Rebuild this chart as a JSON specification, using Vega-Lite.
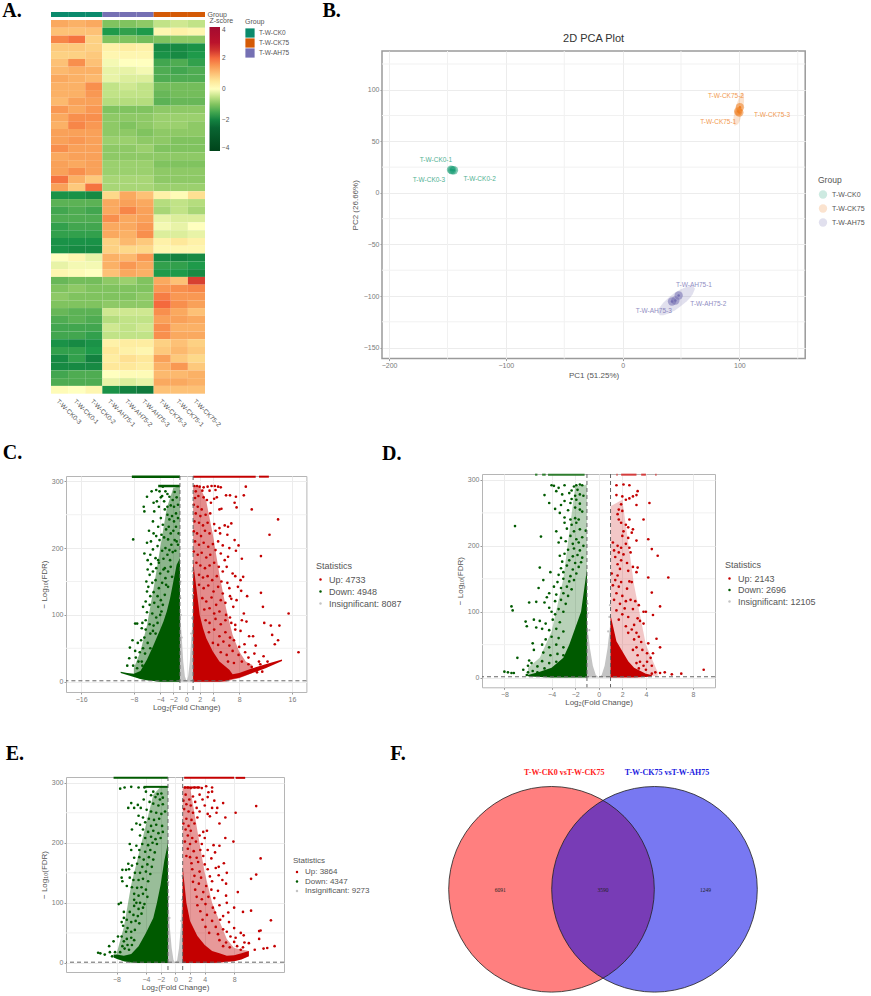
{"$schema":"https://vega.github.io/schema/vega-lite/v6.json","background":"white","padding":{"left":1,"top":0,"right":0,"bottom":0},"config":{"view":{"stroke":null},"font":"Liberation Sans","axis":{"labelColor":"#7a7a7a","labelFontSize":7,"tickColor":"#999","tickSize":2,"titleColor":"#555","titleFontSize":8,"titleFontWeight":"normal","gridColor":"#ececec","domain":false,"labelPadding":1},"legend":{"titleColor":"#555","labelColor":"#555","titleFontWeight":"normal"},"title":{"font":"Liberation Serif","fontWeight":"bold","fontSize":20,"color":"#000","anchor":"start","baseline":"alphabetic","offset":0}},
"datasets":{
"heat":[
{"r":0,"s":"CK0-3","z":1.3},{"r":0,"s":"CK0-1","z":1.2},{"r":0,"s":"CK0-2","z":1.3},{"r":0,"s":"AH75-1","z":-1.0},{"r":0,"s":"AH75-2","z":-1.0},{"r":0,"s":"AH75-3","z":-0.9},{"r":0,"s":"CK75-3","z":-0.5},{"r":0,"s":"CK75-1","z":-0.4},{"r":0,"s":"CK75-2","z":-0.5},
{"r":1,"s":"CK0-3","z":1.0},{"r":1,"s":"CK0-1","z":1.0},{"r":1,"s":"CK0-2","z":1.0},{"r":1,"s":"AH75-1","z":-1.7},{"r":1,"s":"AH75-2","z":-1.6},{"r":1,"s":"AH75-3","z":-1.7},{"r":1,"s":"CK75-3","z":0.2},{"r":1,"s":"CK75-1","z":0.3},{"r":1,"s":"CK75-2","z":0.2},
{"r":2,"s":"CK0-3","z":1.7},{"r":2,"s":"CK0-1","z":1.9},{"r":2,"s":"CK0-2","z":0.8},{"r":2,"s":"AH75-1","z":-1.0},{"r":2,"s":"AH75-2","z":-1.0},{"r":2,"s":"AH75-3","z":-1.1},{"r":2,"s":"CK75-3","z":-1.0},{"r":2,"s":"CK75-1","z":-0.9},{"r":2,"s":"CK75-2","z":-0.9},
{"r":3,"s":"CK0-3","z":0.9},{"r":3,"s":"CK0-1","z":0.9},{"r":3,"s":"CK0-2","z":0.8},{"r":3,"s":"AH75-1","z":0.3},{"r":3,"s":"AH75-2","z":0.4},{"r":3,"s":"AH75-3","z":0.3},{"r":3,"s":"CK75-3","z":-1.9},{"r":3,"s":"CK75-1","z":-1.9},{"r":3,"s":"CK75-2","z":-1.8},
{"r":4,"s":"CK0-3","z":0.8},{"r":4,"s":"CK0-1","z":0.8},{"r":4,"s":"CK0-2","z":0.9},{"r":4,"s":"AH75-1","z":0.2},{"r":4,"s":"AH75-2","z":0.2},{"r":4,"s":"AH75-3","z":0.2},{"r":4,"s":"CK75-3","z":-1.8},{"r":4,"s":"CK75-1","z":-1.9},{"r":4,"s":"CK75-2","z":-1.7},
{"r":5,"s":"CK0-3","z":1.0},{"r":5,"s":"CK0-1","z":1.6},{"r":5,"s":"CK0-2","z":1.0},{"r":5,"s":"AH75-1","z":-0.1},{"r":5,"s":"AH75-2","z":0.0},{"r":5,"s":"AH75-3","z":0.0},{"r":5,"s":"CK75-3","z":-1.5},{"r":5,"s":"CK75-1","z":-1.4},{"r":5,"s":"CK75-2","z":-1.6},
{"r":6,"s":"CK0-3","z":1.1},{"r":6,"s":"CK0-1","z":1.2},{"r":6,"s":"CK0-2","z":1.2},{"r":6,"s":"AH75-1","z":-0.2},{"r":6,"s":"AH75-2","z":-0.2},{"r":6,"s":"AH75-3","z":-0.1},{"r":6,"s":"CK75-3","z":-1.4},{"r":6,"s":"CK75-1","z":-1.5},{"r":6,"s":"CK75-2","z":-1.4},
{"r":7,"s":"CK0-3","z":1.3},{"r":7,"s":"CK0-1","z":1.2},{"r":7,"s":"CK0-2","z":1.1},{"r":7,"s":"AH75-1","z":-0.2},{"r":7,"s":"AH75-2","z":-0.3},{"r":7,"s":"AH75-3","z":-0.3},{"r":7,"s":"CK75-3","z":-1.4},{"r":7,"s":"CK75-1","z":-1.4},{"r":7,"s":"CK75-2","z":-1.4},
{"r":8,"s":"CK0-3","z":1.2},{"r":8,"s":"CK0-1","z":1.2},{"r":8,"s":"CK0-2","z":1.6},{"r":8,"s":"AH75-1","z":-0.5},{"r":8,"s":"AH75-2","z":-0.4},{"r":8,"s":"AH75-3","z":-0.5},{"r":8,"s":"CK75-3","z":-1.1},{"r":8,"s":"CK75-1","z":-1.1},{"r":8,"s":"CK75-2","z":-1.1},
{"r":9,"s":"CK0-3","z":1.2},{"r":9,"s":"CK0-1","z":1.2},{"r":9,"s":"CK0-2","z":1.5},{"r":9,"s":"AH75-1","z":-0.5},{"r":9,"s":"AH75-2","z":-0.5},{"r":9,"s":"AH75-3","z":-0.5},{"r":9,"s":"CK75-3","z":-1.2},{"r":9,"s":"CK75-1","z":-1.1},{"r":9,"s":"CK75-2","z":-1.1},
{"r":10,"s":"CK0-3","z":1.1},{"r":10,"s":"CK0-1","z":1.4},{"r":10,"s":"CK0-2","z":1.4},{"r":10,"s":"AH75-1","z":-0.6},{"r":10,"s":"AH75-2","z":-0.6},{"r":10,"s":"AH75-3","z":-0.6},{"r":10,"s":"CK75-3","z":-1.3},{"r":10,"s":"CK75-1","z":-1.2},{"r":10,"s":"CK75-2","z":-1.2},
{"r":11,"s":"CK0-3","z":1.5},{"r":11,"s":"CK0-1","z":1.3},{"r":11,"s":"CK0-2","z":1.5},{"r":11,"s":"AH75-1","z":-1.0},{"r":11,"s":"AH75-2","z":-1.0},{"r":11,"s":"AH75-3","z":-1.0},{"r":11,"s":"CK75-3","z":-0.9},{"r":11,"s":"CK75-1","z":-0.9},{"r":11,"s":"CK75-2","z":-0.9},
{"r":12,"s":"CK0-3","z":1.3},{"r":12,"s":"CK0-1","z":1.6},{"r":12,"s":"CK0-2","z":1.6},{"r":12,"s":"AH75-1","z":-0.9},{"r":12,"s":"AH75-2","z":-0.9},{"r":12,"s":"AH75-3","z":-0.9},{"r":12,"s":"CK75-3","z":-0.8},{"r":12,"s":"CK75-1","z":-0.8},{"r":12,"s":"CK75-2","z":-0.8},
{"r":13,"s":"CK0-3","z":1.2},{"r":13,"s":"CK0-1","z":1.7},{"r":13,"s":"CK0-2","z":1.5},{"r":13,"s":"AH75-1","z":-0.9},{"r":13,"s":"AH75-2","z":-1.0},{"r":13,"s":"AH75-3","z":-0.9},{"r":13,"s":"CK75-3","z":-0.8},{"r":13,"s":"CK75-1","z":-0.8},{"r":13,"s":"CK75-2","z":-0.9},
{"r":14,"s":"CK0-3","z":1.4},{"r":14,"s":"CK0-1","z":1.4},{"r":14,"s":"CK0-2","z":1.4},{"r":14,"s":"AH75-1","z":-0.9},{"r":14,"s":"AH75-2","z":-0.9},{"r":14,"s":"AH75-3","z":-1.0},{"r":14,"s":"CK75-3","z":-0.9},{"r":14,"s":"CK75-1","z":-0.9},{"r":14,"s":"CK75-2","z":-0.9},
{"r":15,"s":"CK0-3","z":1.4},{"r":15,"s":"CK0-1","z":1.5},{"r":15,"s":"CK0-2","z":1.4},{"r":15,"s":"AH75-1","z":-0.8},{"r":15,"s":"AH75-2","z":-0.8},{"r":15,"s":"AH75-3","z":-0.9},{"r":15,"s":"CK75-3","z":-0.9},{"r":15,"s":"CK75-1","z":-1.0},{"r":15,"s":"CK75-2","z":-1.0},
{"r":16,"s":"CK0-3","z":1.6},{"r":16,"s":"CK0-1","z":1.4},{"r":16,"s":"CK0-2","z":1.4},{"r":16,"s":"AH75-1","z":-0.9},{"r":16,"s":"AH75-2","z":-0.9},{"r":16,"s":"AH75-3","z":-0.8},{"r":16,"s":"CK75-3","z":-1.0},{"r":16,"s":"CK75-1","z":-1.0},{"r":16,"s":"CK75-2","z":-1.0},
{"r":17,"s":"CK0-3","z":1.3},{"r":17,"s":"CK0-1","z":1.4},{"r":17,"s":"CK0-2","z":1.4},{"r":17,"s":"AH75-1","z":-0.9},{"r":17,"s":"AH75-2","z":-0.9},{"r":17,"s":"AH75-3","z":-0.9},{"r":17,"s":"CK75-3","z":-0.9},{"r":17,"s":"CK75-1","z":-0.9},{"r":17,"s":"CK75-2","z":-0.9},
{"r":18,"s":"CK0-3","z":1.4},{"r":18,"s":"CK0-1","z":1.3},{"r":18,"s":"CK0-2","z":1.4},{"r":18,"s":"AH75-1","z":-0.8},{"r":18,"s":"AH75-2","z":-0.8},{"r":18,"s":"AH75-3","z":-0.8},{"r":18,"s":"CK75-3","z":-1.0},{"r":18,"s":"CK75-1","z":-1.0},{"r":18,"s":"CK75-2","z":-1.0},
{"r":19,"s":"CK0-3","z":1.4},{"r":19,"s":"CK0-1","z":1.6},{"r":19,"s":"CK0-2","z":1.4},{"r":19,"s":"AH75-1","z":-0.8},{"r":19,"s":"AH75-2","z":-0.8},{"r":19,"s":"AH75-3","z":-0.8},{"r":19,"s":"CK75-3","z":-0.9},{"r":19,"s":"CK75-1","z":-0.9},{"r":19,"s":"CK75-2","z":-0.9},
{"r":20,"s":"CK0-3","z":1.9},{"r":20,"s":"CK0-1","z":1.2},{"r":20,"s":"CK0-2","z":0.9},{"r":20,"s":"AH75-1","z":-0.7},{"r":20,"s":"AH75-2","z":-0.7},{"r":20,"s":"AH75-3","z":-0.7},{"r":20,"s":"CK75-3","z":-0.9},{"r":20,"s":"CK75-1","z":-0.9},{"r":20,"s":"CK75-2","z":-0.9},
{"r":21,"s":"CK0-3","z":1.4},{"r":21,"s":"CK0-1","z":0.9},{"r":21,"s":"CK0-2","z":1.9},{"r":21,"s":"AH75-1","z":-0.7},{"r":21,"s":"AH75-2","z":-0.7},{"r":21,"s":"AH75-3","z":-0.7},{"r":21,"s":"CK75-3","z":-0.8},{"r":21,"s":"CK75-1","z":-0.8},{"r":21,"s":"CK75-2","z":-0.8},
{"r":22,"s":"CK0-3","z":-1.8},{"r":22,"s":"CK0-1","z":-1.8},{"r":22,"s":"CK0-2","z":-1.9},{"r":22,"s":"AH75-1","z":0.7},{"r":22,"s":"AH75-2","z":1.3},{"r":22,"s":"AH75-3","z":1.0},{"r":22,"s":"CK75-3","z":0.3},{"r":22,"s":"CK75-1","z":0.1},{"r":22,"s":"CK75-2","z":0.6},
{"r":23,"s":"CK0-3","z":-1.3},{"r":23,"s":"CK0-1","z":-1.3},{"r":23,"s":"CK0-2","z":-1.3},{"r":23,"s":"AH75-1","z":1.3},{"r":23,"s":"AH75-2","z":1.4},{"r":23,"s":"AH75-3","z":1.3},{"r":23,"s":"CK75-3","z":-0.6},{"r":23,"s":"CK75-1","z":-0.5},{"r":23,"s":"CK75-2","z":-0.6},
{"r":24,"s":"CK0-3","z":-1.5},{"r":24,"s":"CK0-1","z":-1.4},{"r":24,"s":"CK0-2","z":-1.5},{"r":24,"s":"AH75-1","z":1.3},{"r":24,"s":"AH75-2","z":1.7},{"r":24,"s":"AH75-3","z":1.4},{"r":24,"s":"CK75-3","z":-0.7},{"r":24,"s":"CK75-1","z":-0.5},{"r":24,"s":"CK75-2","z":-0.7},
{"r":25,"s":"CK0-3","z":-1.4},{"r":25,"s":"CK0-1","z":-1.4},{"r":25,"s":"CK0-2","z":-1.4},{"r":25,"s":"AH75-1","z":1.6},{"r":25,"s":"AH75-2","z":1.3},{"r":25,"s":"AH75-3","z":1.4},{"r":25,"s":"CK75-3","z":-0.2},{"r":25,"s":"CK75-1","z":-0.3},{"r":25,"s":"CK75-2","z":-0.3},
{"r":26,"s":"CK0-3","z":-1.6},{"r":26,"s":"CK0-1","z":-1.5},{"r":26,"s":"CK0-2","z":-1.5},{"r":26,"s":"AH75-1","z":1.3},{"r":26,"s":"AH75-2","z":1.3},{"r":26,"s":"AH75-3","z":1.5},{"r":26,"s":"CK75-3","z":-0.1},{"r":26,"s":"CK75-1","z":-0.2},{"r":26,"s":"CK75-2","z":0.0},
{"r":27,"s":"CK0-3","z":-1.6},{"r":27,"s":"CK0-1","z":-1.6},{"r":27,"s":"CK0-2","z":-1.6},{"r":27,"s":"AH75-1","z":1.3},{"r":27,"s":"AH75-2","z":1.2},{"r":27,"s":"AH75-3","z":1.6},{"r":27,"s":"CK75-3","z":-0.3},{"r":27,"s":"CK75-1","z":-0.3},{"r":27,"s":"CK75-2","z":-0.2},
{"r":28,"s":"CK0-3","z":-1.8},{"r":28,"s":"CK0-1","z":-1.8},{"r":28,"s":"CK0-2","z":-1.8},{"r":28,"s":"AH75-1","z":0.8},{"r":28,"s":"AH75-2","z":1.1},{"r":28,"s":"AH75-3","z":0.9},{"r":28,"s":"CK75-3","z":0.3},{"r":28,"s":"CK75-1","z":0.5},{"r":28,"s":"CK75-2","z":0.3},
{"r":29,"s":"CK0-3","z":-1.8},{"r":29,"s":"CK0-1","z":-1.9},{"r":29,"s":"CK0-2","z":-1.9},{"r":29,"s":"AH75-1","z":0.8},{"r":29,"s":"AH75-2","z":0.7},{"r":29,"s":"AH75-3","z":0.7},{"r":29,"s":"CK75-3","z":0.2},{"r":29,"s":"CK75-1","z":0.2},{"r":29,"s":"CK75-2","z":0.2},
{"r":30,"s":"CK0-3","z":0.0},{"r":30,"s":"CK0-1","z":0.2},{"r":30,"s":"CK0-2","z":-0.2},{"r":30,"s":"AH75-1","z":1.2},{"r":30,"s":"AH75-2","z":1.1},{"r":30,"s":"AH75-3","z":1.5},{"r":30,"s":"CK75-3","z":-1.9},{"r":30,"s":"CK75-1","z":-2.0},{"r":30,"s":"CK75-2","z":-1.9},
{"r":31,"s":"CK0-3","z":-0.2},{"r":31,"s":"CK0-1","z":-0.1},{"r":31,"s":"CK0-2","z":-0.1},{"r":31,"s":"AH75-1","z":1.2},{"r":31,"s":"AH75-2","z":1.5},{"r":31,"s":"AH75-3","z":1.3},{"r":31,"s":"CK75-3","z":-1.6},{"r":31,"s":"CK75-1","z":-1.6},{"r":31,"s":"CK75-2","z":-1.7},
{"r":32,"s":"CK0-3","z":0.2},{"r":32,"s":"CK0-1","z":0.1},{"r":32,"s":"CK0-2","z":0.0},{"r":32,"s":"AH75-1","z":1.0},{"r":32,"s":"AH75-2","z":1.3},{"r":32,"s":"AH75-3","z":1.2},{"r":32,"s":"CK75-3","z":-1.7},{"r":32,"s":"CK75-1","z":-1.7},{"r":32,"s":"CK75-2","z":-1.9},
{"r":33,"s":"CK0-3","z":-1.2},{"r":33,"s":"CK0-1","z":-1.1},{"r":33,"s":"CK0-2","z":-1.1},{"r":33,"s":"AH75-1","z":-0.9},{"r":33,"s":"AH75-2","z":-0.8},{"r":33,"s":"AH75-3","z":-1.0},{"r":33,"s":"CK75-3","z":1.3},{"r":33,"s":"CK75-1","z":1.0},{"r":33,"s":"CK75-2","z":2.4},
{"r":34,"s":"CK0-3","z":-1.0},{"r":34,"s":"CK0-1","z":-0.9},{"r":34,"s":"CK0-2","z":-1.0},{"r":34,"s":"AH75-1","z":-1.0},{"r":34,"s":"AH75-2","z":-1.0},{"r":34,"s":"AH75-3","z":-1.0},{"r":34,"s":"CK75-3","z":1.5},{"r":34,"s":"CK75-1","z":1.6},{"r":34,"s":"CK75-2","z":1.7},
{"r":35,"s":"CK0-3","z":-0.9},{"r":35,"s":"CK0-1","z":-1.0},{"r":35,"s":"CK0-2","z":-1.0},{"r":35,"s":"AH75-1","z":-1.0},{"r":35,"s":"AH75-2","z":-1.0},{"r":35,"s":"AH75-3","z":-0.9},{"r":35,"s":"CK75-3","z":1.8},{"r":35,"s":"CK75-1","z":1.5},{"r":35,"s":"CK75-2","z":1.5},
{"r":36,"s":"CK0-3","z":-1.0},{"r":36,"s":"CK0-1","z":-1.0},{"r":36,"s":"CK0-2","z":-1.0},{"r":36,"s":"AH75-1","z":-0.9},{"r":36,"s":"AH75-2","z":-0.9},{"r":36,"s":"AH75-3","z":-0.9},{"r":36,"s":"CK75-3","z":2.0},{"r":36,"s":"CK75-1","z":1.6},{"r":36,"s":"CK75-2","z":1.4},
{"r":37,"s":"CK0-3","z":-1.2},{"r":37,"s":"CK0-1","z":-1.3},{"r":37,"s":"CK0-2","z":-1.3},{"r":37,"s":"AH75-1","z":-0.4},{"r":37,"s":"AH75-2","z":-0.4},{"r":37,"s":"AH75-3","z":-0.4},{"r":37,"s":"CK75-3","z":1.6},{"r":37,"s":"CK75-1","z":1.3},{"r":37,"s":"CK75-2","z":1.0},
{"r":38,"s":"CK0-3","z":-1.4},{"r":38,"s":"CK0-1","z":-1.3},{"r":38,"s":"CK0-2","z":-1.4},{"r":38,"s":"AH75-1","z":-0.6},{"r":38,"s":"AH75-2","z":-0.5},{"r":38,"s":"AH75-3","z":-0.5},{"r":38,"s":"CK75-3","z":1.4},{"r":38,"s":"CK75-1","z":1.4},{"r":38,"s":"CK75-2","z":1.3},
{"r":39,"s":"CK0-3","z":-1.5},{"r":39,"s":"CK0-1","z":-1.5},{"r":39,"s":"CK0-2","z":-1.5},{"r":39,"s":"AH75-1","z":-0.4},{"r":39,"s":"AH75-2","z":-0.5},{"r":39,"s":"AH75-3","z":-0.4},{"r":39,"s":"CK75-3","z":1.6},{"r":39,"s":"CK75-1","z":1.2},{"r":39,"s":"CK75-2","z":1.2},
{"r":40,"s":"CK0-3","z":-1.5},{"r":40,"s":"CK0-1","z":-1.5},{"r":40,"s":"CK0-2","z":-1.6},{"r":40,"s":"AH75-1","z":-0.5},{"r":40,"s":"AH75-2","z":-0.5},{"r":40,"s":"AH75-3","z":-0.5},{"r":40,"s":"CK75-3","z":1.6},{"r":40,"s":"CK75-1","z":1.3},{"r":40,"s":"CK75-2","z":1.3},
{"r":41,"s":"CK0-3","z":-1.8},{"r":41,"s":"CK0-1","z":-1.9},{"r":41,"s":"CK0-2","z":-1.8},{"r":41,"s":"AH75-1","z":0.3},{"r":41,"s":"AH75-2","z":0.4},{"r":41,"s":"AH75-3","z":0.4},{"r":41,"s":"CK75-3","z":0.8},{"r":41,"s":"CK75-1","z":1.0},{"r":41,"s":"CK75-2","z":0.8},
{"r":42,"s":"CK0-3","z":-1.6},{"r":42,"s":"CK0-1","z":-1.6},{"r":42,"s":"CK0-2","z":-1.7},{"r":42,"s":"AH75-1","z":0.5},{"r":42,"s":"AH75-2","z":0.3},{"r":42,"s":"AH75-3","z":0.2},{"r":42,"s":"CK75-3","z":0.9},{"r":42,"s":"CK75-1","z":1.1},{"r":42,"s":"CK75-2","z":0.9},
{"r":43,"s":"CK0-3","z":-1.9},{"r":43,"s":"CK0-1","z":-1.6},{"r":43,"s":"CK0-2","z":-2.0},{"r":43,"s":"AH75-1","z":0.4},{"r":43,"s":"AH75-2","z":0.6},{"r":43,"s":"AH75-3","z":0.5},{"r":43,"s":"CK75-3","z":1.4},{"r":43,"s":"CK75-1","z":0.9},{"r":43,"s":"CK75-2","z":0.7},
{"r":44,"s":"CK0-3","z":-1.9},{"r":44,"s":"CK0-1","z":-1.9},{"r":44,"s":"CK0-2","z":-1.9},{"r":44,"s":"AH75-1","z":0.5},{"r":44,"s":"AH75-2","z":0.5},{"r":44,"s":"AH75-3","z":0.4},{"r":44,"s":"CK75-3","z":1.2},{"r":44,"s":"CK75-1","z":1.5},{"r":44,"s":"CK75-2","z":0.9},
{"r":45,"s":"CK0-3","z":-1.5},{"r":45,"s":"CK0-1","z":-1.4},{"r":45,"s":"CK0-2","z":-1.4},{"r":45,"s":"AH75-1","z":0.0},{"r":45,"s":"AH75-2","z":0.1},{"r":45,"s":"AH75-3","z":0.1},{"r":45,"s":"CK75-3","z":1.1},{"r":45,"s":"CK75-1","z":1.1},{"r":45,"s":"CK75-2","z":1.2},
{"r":46,"s":"CK0-3","z":-1.4},{"r":46,"s":"CK0-1","z":-1.4},{"r":46,"s":"CK0-2","z":-1.4},{"r":46,"s":"AH75-1","z":-0.2},{"r":46,"s":"AH75-2","z":-0.3},{"r":46,"s":"AH75-3","z":-0.2},{"r":46,"s":"CK75-3","z":1.3},{"r":46,"s":"CK75-1","z":1.3},{"r":46,"s":"CK75-2","z":1.2},
{"r":47,"s":"CK0-3","z":0.1},{"r":47,"s":"CK0-1","z":0.0},{"r":47,"s":"CK0-2","z":0.2},{"r":47,"s":"AH75-1","z":-1.8},{"r":47,"s":"AH75-2","z":-2.0},{"r":47,"s":"AH75-3","z":-2.1},{"r":47,"s":"CK75-3","z":1.0},{"r":47,"s":"CK75-1","z":1.0},{"r":47,"s":"CK75-2","z":1.0}],
"annot":[{"s":"CK0-3","g":"T-W-CK0"},{"s":"CK0-1","g":"T-W-CK0"},{"s":"CK0-2","g":"T-W-CK0"},{"s":"AH75-1","g":"T-W-AH75"},{"s":"AH75-2","g":"T-W-AH75"},{"s":"AH75-3","g":"T-W-AH75"},{"s":"CK75-3","g":"T-W-CK75"},{"s":"CK75-1","g":"T-W-CK75"},{"s":"CK75-2","g":"T-W-CK75"}],
"pts":[{"x":-147,"y":22.5,"g":"T-W-CK0"},{"x":-146,"y":22,"g":"T-W-CK0"},{"x":-144.5,"y":22,"g":"T-W-CK0"},{"x":100.5,"y":83,"g":"T-W-CK75"},{"x":99,"y":79,"g":"T-W-CK75"},{"x":100,"y":78,"g":"T-W-CK75"},{"x":48,"y":-99.5,"g":"T-W-AH75"},{"x":45.2,"y":-104.4,"g":"T-W-AH75"},{"x":42.3,"y":-105.3,"g":"T-W-AH75"}],
"labs":[{"x":88.5,"y":93.9,"g":"T-W-CK75","t":"T-W-CK75-2"},{"x":128,"y":75.4,"g":"T-W-CK75","t":"T-W-CK75-3"},{"x":81.9,"y":68.3,"g":"T-W-CK75","t":"T-W-CK75-1"},{"x":-159.9,"y":32.3,"g":"T-W-CK0","t":"T-W-CK0-1"},{"x":-165.9,"y":12.2,"g":"T-W-CK0","t":"T-W-CK0-3"},{"x":-122.5,"y":13.9,"g":"T-W-CK0","t":"T-W-CK0-2"},{"x":61.1,"y":-89.1,"g":"T-W-AH75","t":"T-W-AH75-1"},{"x":73.4,"y":-107.6,"g":"T-W-AH75","t":"T-W-AH75-2"},{"x":26.7,"y":-115,"g":"T-W-AH75","t":"T-W-AH75-3"}],
"ell":[{"x":95,"y":68,"y2":73,"g":"T-W-CK75"},{"x":96,"y":65,"y2":80,"g":"T-W-CK75"},{"x":97,"y":65.5,"y2":84,"g":"T-W-CK75"},{"x":98,"y":66,"y2":87,"g":"T-W-CK75"},{"x":99,"y":67,"y2":90,"g":"T-W-CK75"},{"x":100,"y":69,"y2":93,"g":"T-W-CK75"},{"x":101,"y":72,"y2":95,"g":"T-W-CK75"},{"x":102,"y":77,"y2":97,"g":"T-W-CK75"},{"x":103,"y":83,"y2":97,"g":"T-W-CK75"},{"x":104,"y":88,"y2":95,"g":"T-W-CK75"},
{"x":30,"y":-116,"y2":-116,"g":"T-W-AH75"},{"x":32,"y":-118.6,"y2":-110.6,"g":"T-W-AH75"},{"x":35,"y":-118.6,"y2":-106.2,"g":"T-W-AH75"},{"x":40,"y":-116.7,"y2":-100.9,"g":"T-W-AH75"},{"x":45,"y":-113.7,"y2":-96.7,"g":"T-W-AH75"},{"x":50,"y":-109.8,"y2":-93.4,"g":"T-W-AH75"},{"x":55,"y":-105,"y2":-91,"g":"T-W-AH75"},{"x":58,"y":-101.4,"y2":-90.2,"g":"T-W-AH75"},{"x":60,"y":-98.4,"y2":-90.4,"g":"T-W-AH75"},{"x":62,"y":-92.9,"y2":-92.9,"g":"T-W-AH75"}],
"cN":[{"x":0.9,"y":165},{"x":-0.9,"y":150},{"x":0.95,"y":130},{"x":-0.95,"y":125},{"x":0.85,"y":95},{"x":-0.85,"y":100},{"x":0.7,"y":72},{"x":-0.72,"y":66}],
"dN":[{"x":0.95,"y":110},{"x":-0.95,"y":112},{"x":0.9,"y":92},{"x":-0.9,"y":98},{"x":0.8,"y":70},{"x":-0.8,"y":72}],
"eN":[{"x":0.95,"y":145},{"x":-0.95,"y":135},{"x":-0.9,"y":110},{"x":0.9,"y":105},{"x":0.8,"y":70},{"x":-0.8,"y":75}],
"cD":[{"x":-4.1,"y":285},{"x":-3.9,"y":276},{"x":-4.6,"y":287},{"x":-4.5,"y":270},{"x":-5.3,"y":285},{"x":-6.0,"y":277},{"x":-5.0,"y":268},{"x":-6.5,"y":262},{"x":-6.4,"y":255},{"x":-4.9,"y":255},{"x":-4.2,"y":262},{"x":-3.7,"y":278},{"x":-3.4,"y":270},{"x":-3.2,"y":285},{"x":-2.9,"y":281},{"x":-2.6,"y":277},{"x":-2.4,"y":264},{"x":-2.1,"y":272},{"x":-1.8,"y":284},{"x":-1.5,"y":276},{"x":-1.3,"y":265},{"x":-3.3,"y":258},{"x":-2.9,"y":250},{"x":-2.6,"y":243},{"x":-2.2,"y":248},{"x":-1.9,"y":240},{"x":-1.6,"y":252},{"x":-1.3,"y":245},{"x":-3.9,"y":245},{"x":-4.3,"y":232},{"x":-3.6,"y":235},{"x":-3.1,"y":228},{"x":-2.7,"y":232},{"x":-5.1,"y":240},{"x":-5.7,"y":226},{"x":-5.0,"y":222},{"x":-4.6,"y":218},{"x":-6.0,"y":208},{"x":-8.1,"y":213},{"x":-5.4,"y":210},{"x":-4.1,"y":212},{"x":-3.8,"y":220},{"x":-3.4,"y":216},{"x":-2.8,"y":213},{"x":-2.4,"y":222},{"x":-2.0,"y":226},{"x":-1.6,"y":232},{"x":-1.2,"y":222},{"x":-2.3,"y":205},{"x":-1.8,"y":212},{"x":-1.3,"y":205},{"x":-3.2,"y":200},{"x":-3.7,"y":196},{"x":-4.4,"y":203},{"x":-5.1,"y":198},{"x":-5.5,"y":190},{"x":-6.4,"y":192},{"x":-5.9,"y":182},{"x":-5.4,"y":176},{"x":-4.7,"y":185},{"x":-4.2,"y":178},{"x":-3.5,"y":184},{"x":-2.9,"y":190},{"x":-2.5,"y":182},{"x":-2.1,"y":194},{"x":-5.9,"y":168},{"x":-5.6,"y":160},{"x":-5.1,"y":165},{"x":-4.6,"y":170},{"x":-4.0,"y":162},{"x":-3.3,"y":170},{"x":-2.8,"y":165},{"x":-2.4,"y":172},{"x":-6.1,"y":150},{"x":-5.8,"y":142},{"x":-5.2,"y":148},{"x":-4.7,"y":152},{"x":-4.2,"y":140},{"x":-3.7,"y":148},{"x":-3.2,"y":155},{"x":-2.8,"y":142},{"x":-6.0,"y":135},{"x":-5.5,"y":128},{"x":-5.0,"y":134},{"x":-4.4,"y":128},{"x":-3.9,"y":122},{"x":-3.3,"y":130},{"x":-6.2,"y":120},{"x":-5.6,"y":115},{"x":-4.9,"y":118},{"x":-4.3,"y":112},{"x":-3.8,"y":105},{"x":-6.6,"y":112},{"x":-6.0,"y":104},{"x":-5.2,"y":102},{"x":-4.6,"y":96},{"x":-7.8,"y":87},{"x":-7.5,"y":87},{"x":-6.7,"y":88},{"x":-6.2,"y":92},{"x":-5.6,"y":86},{"x":-5.0,"y":84},{"x":-4.4,"y":88},{"x":-6.8,"y":80},{"x":-6.2,"y":78},{"x":-5.5,"y":72},{"x":-5.1,"y":76},{"x":-4.7,"y":72},{"x":-8.2,"y":62},{"x":-7.4,"y":58},{"x":-6.9,"y":62},{"x":-6.4,"y":66},{"x":-5.9,"y":58},{"x":-5.5,"y":50},{"x":-8.6,"y":51},{"x":-7.8,"y":46},{"x":-7.1,"y":44},{"x":-6.6,"y":50},{"x":-6.3,"y":42},{"x":-8.7,"y":35},{"x":-7.7,"y":36},{"x":-7.3,"y":30},{"x":-6.8,"y":30},{"x":-9.0,"y":24},{"x":-8.1,"y":24},{"x":-7.5,"y":20},{"x":-6.7,"y":24},{"x":-4.3,"y":182},{"x":-3.1,"y":145},{"x":-1.5,"y":210},{"x":-2.9,"y":262},{"x":-1.9,"y":262},{"x":-3.6,"y":292},{"x":-1.7,"y":196},{"x":-2.6,"y":197},{"x":-3.5,"y":168},{"x":-2.2,"y":157},{"x":-3.6,"y":115},{"x":-4.0,"y":100}],
"cU":[{"x":1.2,"y":293},{"x":1.6,"y":293},{"x":2.0,"y":292},{"x":2.6,"y":291},{"x":3.2,"y":292},{"x":3.8,"y":293},{"x":4.3,"y":293},{"x":4.8,"y":292},{"x":1.4,"y":285},{"x":2.4,"y":286},{"x":3.5,"y":286},{"x":4.4,"y":287},{"x":5.2,"y":291},{"x":9,"y":292},{"x":8.7,"y":279},{"x":6,"y":279},{"x":6.6,"y":279},{"x":7.5,"y":277},{"x":1.3,"y":275},{"x":1.8,"y":278},{"x":2.6,"y":276},{"x":3.1,"y":272},{"x":3.7,"y":268},{"x":4.2,"y":274},{"x":4.6,"y":276},{"x":7.3,"y":268},{"x":7.6,"y":261},{"x":9.9,"y":258},{"x":5.3,"y":259},{"x":5.0,"y":258},{"x":1.1,"y":265},{"x":1.7,"y":262},{"x":2.3,"y":258},{"x":1.4,"y":252},{"x":2.1,"y":248},{"x":2.9,"y":250},{"x":3.6,"y":252},{"x":13.9,"y":243},{"x":1.2,"y":240},{"x":1.9,"y":238},{"x":2.5,"y":234},{"x":3.2,"y":238},{"x":4.2,"y":236},{"x":5.0,"y":230},{"x":5.8,"y":234},{"x":6.3,"y":232},{"x":6.8,"y":237},{"x":1.1,"y":225},{"x":1.6,"y":222},{"x":2.2,"y":218},{"x":2.8,"y":226},{"x":3.5,"y":222},{"x":4.4,"y":226},{"x":5.1,"y":222},{"x":6.2,"y":220},{"x":7.3,"y":212},{"x":12.6,"y":220},{"x":1.3,"y":210},{"x":1.9,"y":205},{"x":2.6,"y":208},{"x":3.3,"y":202},{"x":4.0,"y":206},{"x":4.8,"y":210},{"x":5.5,"y":204},{"x":6.5,"y":200},{"x":7.9,"y":204},{"x":7.5,"y":196},{"x":1.1,"y":195},{"x":1.7,"y":190},{"x":2.3,"y":193},{"x":3.0,"y":186},{"x":3.6,"y":190},{"x":4.4,"y":197},{"x":5.2,"y":192},{"x":5.8,"y":182},{"x":6.3,"y":187},{"x":8.4,"y":184},{"x":11.3,"y":188},{"x":1.5,"y":178},{"x":2.1,"y":174},{"x":2.8,"y":170},{"x":3.5,"y":174},{"x":4.2,"y":178},{"x":4.9,"y":172},{"x":5.5,"y":165},{"x":6.1,"y":172},{"x":7.0,"y":162},{"x":1.9,"y":160},{"x":2.5,"y":156},{"x":3.2,"y":158},{"x":3.9,"y":152},{"x":4.6,"y":158},{"x":5.3,"y":150},{"x":6.2,"y":148},{"x":7.4,"y":158},{"x":8.2,"y":152},{"x":8.6,"y":157},{"x":1.9,"y":145},{"x":2.6,"y":140},{"x":3.3,"y":144},{"x":4.1,"y":135},{"x":4.8,"y":142},{"x":5.5,"y":132},{"x":6.5,"y":140},{"x":6.6,"y":128},{"x":7.8,"y":142},{"x":8.3,"y":136},{"x":9.2,"y":128},{"x":11.3,"y":133},{"x":2.4,"y":125},{"x":3.0,"y":120},{"x":3.8,"y":126},{"x":4.5,"y":115},{"x":5.2,"y":122},{"x":5.9,"y":118},{"x":6.8,"y":124},{"x":7.6,"y":122},{"x":11.6,"y":112},{"x":2.7,"y":108},{"x":3.5,"y":110},{"x":4.2,"y":102},{"x":5.0,"y":105},{"x":6.0,"y":100},{"x":6.6,"y":96},{"x":7.1,"y":112},{"x":8.7,"y":102},{"x":15.5,"y":102},{"x":2.9,"y":92},{"x":3.5,"y":88},{"x":4.4,"y":94},{"x":5.2,"y":86},{"x":5.9,"y":92},{"x":6.8,"y":88},{"x":7.4,"y":85},{"x":8.4,"y":92},{"x":9.1,"y":90},{"x":11.8,"y":88},{"x":12.8,"y":84},{"x":14.1,"y":84},{"x":3.4,"y":74},{"x":4.2,"y":78},{"x":5.0,"y":68},{"x":5.9,"y":74},{"x":6.6,"y":66},{"x":7.4,"y":78},{"x":8.2,"y":76},{"x":9.5,"y":68},{"x":10.1,"y":68},{"x":13.0,"y":70},{"x":4.0,"y":58},{"x":4.8,"y":55},{"x":5.6,"y":60},{"x":6.5,"y":54},{"x":7.2,"y":62},{"x":8.0,"y":52},{"x":8.8,"y":56},{"x":10.5,"y":54},{"x":13.4,"y":56},{"x":13.9,"y":62},{"x":5.2,"y":44},{"x":6.1,"y":40},{"x":7.0,"y":46},{"x":7.9,"y":40},{"x":8.9,"y":44},{"x":9.4,"y":36},{"x":10.3,"y":42},{"x":17,"y":44},{"x":6.3,"y":30},{"x":7.2,"y":28},{"x":8.4,"y":30},{"x":9.4,"y":26},{"x":11.0,"y":30},{"x":11.7,"y":38},{"x":11.2,"y":26},{"x":12.3,"y":30},{"x":9.9,"y":22},{"x":11.5,"y":15},{"x":10.7,"y":14}],
"dD":[{"x":-4.0,"y":292},{"x":-3.8,"y":291},{"x":-3.4,"y":288},{"x":-2.9,"y":292},{"x":-2.1,"y":290},{"x":-1.9,"y":292},{"x":-1.6,"y":293},{"x":-1.4,"y":292},{"x":-1.8,"y":285},{"x":-2.3,"y":284},{"x":-3.6,"y":283},{"x":-3.1,"y":278},{"x":-2.5,"y":280},{"x":-2.0,"y":276},{"x":-1.6,"y":278},{"x":-1.3,"y":276},{"x":-4.6,"y":277},{"x":-2.3,"y":271},{"x":-1.9,"y":270},{"x":-2.9,"y":268},{"x":-4.2,"y":265},{"x":-3.2,"y":262},{"x":-2.4,"y":265},{"x":-1.6,"y":264},{"x":-3.7,"y":256},{"x":-2.6,"y":254},{"x":-2.0,"y":258},{"x":-1.6,"y":255},{"x":-1.4,"y":252},{"x":-3.3,"y":250},{"x":-2.9,"y":243},{"x":-2.4,"y":240},{"x":-2.0,"y":242},{"x":-1.7,"y":240},{"x":-2.9,"y":235},{"x":-2.3,"y":232},{"x":-1.9,"y":235},{"x":-1.1,"y":223},{"x":-7.1,"y":230},{"x":-3.6,"y":222},{"x":-2.7,"y":226},{"x":-2.1,"y":222},{"x":-1.6,"y":225},{"x":-4.9,"y":214},{"x":-3.2,"y":212},{"x":-2.4,"y":215},{"x":-1.9,"y":210},{"x":-1.4,"y":213},{"x":-3.4,"y":205},{"x":-2.8,"y":207},{"x":-2.2,"y":203},{"x":-1.7,"y":205},{"x":-1.3,"y":200},{"x":-2.6,"y":194},{"x":-2.1,"y":196},{"x":-1.6,"y":193},{"x":-3.3,"y":185},{"x":-2.9,"y":188},{"x":-2.2,"y":184},{"x":-1.8,"y":186},{"x":-1.4,"y":182},{"x":-3.1,"y":176},{"x":-2.5,"y":178},{"x":-2.0,"y":174},{"x":-1.5,"y":175},{"x":-5.0,"y":167},{"x":-3.2,"y":166},{"x":-2.7,"y":170},{"x":-2.2,"y":164},{"x":-1.7,"y":168},{"x":-4.1,"y":160},{"x":-3.4,"y":156},{"x":-3.0,"y":160},{"x":-2.4,"y":154},{"x":-1.9,"y":158},{"x":-4.7,"y":148},{"x":-3.5,"y":145},{"x":-3.0,"y":150},{"x":-2.5,"y":146},{"x":-2.1,"y":148},{"x":-5.1,"y":136},{"x":-3.8,"y":138},{"x":-3.2,"y":136},{"x":-2.7,"y":138},{"x":-2.3,"y":134},{"x":-4.2,"y":128},{"x":-3.6,"y":126},{"x":-3.0,"y":128},{"x":-2.6,"y":124},{"x":-5.3,"y":115},{"x":-5.9,"y":114},{"x":-4.4,"y":122},{"x":-4.6,"y":114},{"x":-3.7,"y":116},{"x":-3.2,"y":118},{"x":-2.8,"y":112},{"x":-7.4,"y":108},{"x":-7.3,"y":102},{"x":-4.2,"y":106},{"x":-4.0,"y":100},{"x":-3.4,"y":104},{"x":-3.0,"y":100},{"x":-3.7,"y":96},{"x":-6.2,"y":85},{"x":-5.5,"y":88},{"x":-5.0,"y":86},{"x":-4.5,"y":82},{"x":-3.9,"y":88},{"x":-3.3,"y":84},{"x":-6.1,"y":78},{"x":-5.3,"y":76},{"x":-4.8,"y":74},{"x":-4.2,"y":72},{"x":-3.6,"y":74},{"x":-3.0,"y":70},{"x":-4.0,"y":62},{"x":-4.5,"y":58},{"x":-3.4,"y":60},{"x":-5.6,"y":52},{"x":-5.5,"y":42},{"x":-4.8,"y":50},{"x":-4.2,"y":46},{"x":-3.6,"y":50},{"x":-3.0,"y":46},{"x":-4.7,"y":38},{"x":-4.1,"y":34},{"x":-3.5,"y":36},{"x":-3.0,"y":34},{"x":-6.9,"y":30},{"x":-5.9,"y":26},{"x":-5.7,"y":22},{"x":-4.8,"y":25},{"x":-4.2,"y":22},{"x":-3.6,"y":24},{"x":-6.0,"y":18},{"x":-5.2,"y":17},{"x":-4.6,"y":14},{"x":-8.0,"y":9},{"x":-7.7,"y":8},{"x":-7.4,"y":7},{"x":-7.2,"y":7},{"x":-6.4,"y":12},{"x":-6.0,"y":8},{"x":-5.6,"y":10},{"x":-5.2,"y":8},{"x":-4.9,"y":5},{"x":-6.1,"y":4},{"x":-4.3,"y":8}],
"dU":[{"x":1.5,"y":292},{"x":2.1,"y":293},{"x":2.6,"y":292},{"x":3.3,"y":283},{"x":3.2,"y":277},{"x":1.5,"y":277},{"x":2.0,"y":275},{"x":2.9,"y":275},{"x":2.3,"y":270},{"x":2.6,"y":272},{"x":4.3,"y":265},{"x":3.2,"y":262},{"x":1.9,"y":263},{"x":1.7,"y":255},{"x":2.0,"y":253},{"x":1.6,"y":248},{"x":3.8,"y":240},{"x":1.7,"y":240},{"x":2.6,"y":240},{"x":1.9,"y":235},{"x":2.3,"y":232},{"x":2.5,"y":228},{"x":2.9,"y":225},{"x":2.1,"y":222},{"x":2.8,"y":220},{"x":2.0,"y":215},{"x":2.5,"y":212},{"x":4.2,"y":210},{"x":3.2,"y":208},{"x":1.2,"y":205},{"x":1.6,"y":200},{"x":2.3,"y":203},{"x":1.9,"y":197},{"x":2.6,"y":197},{"x":4.5,"y":195},{"x":1.3,"y":193},{"x":1.7,"y":190},{"x":2.1,"y":187},{"x":2.7,"y":190},{"x":5,"y":185},{"x":1.4,"y":183},{"x":1.9,"y":178},{"x":2.4,"y":174},{"x":1.6,"y":172},{"x":2.9,"y":168},{"x":3.3,"y":167},{"x":1.8,"y":165},{"x":2.5,"y":162},{"x":3.2,"y":160},{"x":1.1,"y":158},{"x":1.6,"y":155},{"x":4.2,"y":152},{"x":5.9,"y":152},{"x":1.4,"y":148},{"x":1.9,"y":145},{"x":2.6,"y":146},{"x":2.8,"y":145},{"x":1.2,"y":140},{"x":1.7,"y":138},{"x":2.4,"y":135},{"x":4.5,"y":129},{"x":1.5,"y":128},{"x":2.0,"y":124},{"x":2.7,"y":118},{"x":2.3,"y":116},{"x":3.1,"y":116},{"x":1.3,"y":118},{"x":1.8,"y":112},{"x":3.4,"y":110},{"x":5.2,"y":108},{"x":2.2,"y":105},{"x":2.9,"y":104},{"x":1.5,"y":102},{"x":3.8,"y":100},{"x":4.0,"y":100},{"x":4.6,"y":95},{"x":2.0,"y":96},{"x":2.5,"y":92},{"x":3.3,"y":90},{"x":3.5,"y":86},{"x":1.7,"y":88},{"x":3.0,"y":80},{"x":3.8,"y":82},{"x":2.3,"y":78},{"x":2.8,"y":73},{"x":3.2,"y":68},{"x":2.5,"y":68},{"x":3.4,"y":62},{"x":4.9,"y":59},{"x":3.0,"y":58},{"x":4.2,"y":52},{"x":3.6,"y":54},{"x":5.2,"y":46},{"x":3.2,"y":46},{"x":2.9,"y":42},{"x":3.7,"y":42},{"x":4.1,"y":37},{"x":4.6,"y":37},{"x":3.3,"y":34},{"x":4.4,"y":30},{"x":3.5,"y":24},{"x":4.1,"y":24},{"x":3.2,"y":22},{"x":3.8,"y":18},{"x":4.5,"y":18},{"x":3.4,"y":14},{"x":4.0,"y":12},{"x":4.8,"y":8},{"x":5.2,"y":7},{"x":5.6,"y":8},{"x":6.2,"y":5},{"x":7.0,"y":6},{"x":8.9,"y":12},{"x":4.5,"y":6}],
"eD":[{"x":-7.5,"y":290},{"x":-6.9,"y":292},{"x":-6.0,"y":293},{"x":-5.0,"y":292},{"x":-4.2,"y":292},{"x":-4.0,"y":285},{"x":-3.0,"y":285},{"x":-2.4,"y":281},{"x":-1.9,"y":282},{"x":-3.3,"y":279},{"x":-2.7,"y":276},{"x":-2.1,"y":272},{"x":-1.7,"y":275},{"x":-4.3,"y":272},{"x":-3.5,"y":268},{"x":-3.0,"y":265},{"x":-2.3,"y":262},{"x":-1.7,"y":264},{"x":-6.0,"y":266},{"x":-5.1,"y":263},{"x":-6.4,"y":258},{"x":-5.6,"y":258},{"x":-4.7,"y":258},{"x":-3.9,"y":255},{"x":-3.3,"y":252},{"x":-2.6,"y":250},{"x":-1.9,"y":248},{"x":-1.4,"y":252},{"x":-5.0,"y":245},{"x":-4.4,"y":242},{"x":-3.6,"y":240},{"x":-2.9,"y":238},{"x":-2.2,"y":240},{"x":-5.3,"y":232},{"x":-4.8,"y":230},{"x":-4.1,"y":234},{"x":-3.3,"y":228},{"x":-2.6,"y":230},{"x":-1.8,"y":228},{"x":-5.9,"y":222},{"x":-4.4,"y":222},{"x":-3.7,"y":218},{"x":-3.0,"y":220},{"x":-2.3,"y":216},{"x":-1.7,"y":218},{"x":-4.8,"y":212},{"x":-4.1,"y":208},{"x":-3.3,"y":210},{"x":-2.7,"y":206},{"x":-2.0,"y":208},{"x":-6.2,"y":198},{"x":-5.3,"y":195},{"x":-4.5,"y":198},{"x":-3.7,"y":196},{"x":-3.1,"y":200},{"x":-2.5,"y":198},{"x":-6.0,"y":188},{"x":-4.9,"y":188},{"x":-4.1,"y":185},{"x":-3.4,"y":188},{"x":-2.8,"y":184},{"x":-5.6,"y":175},{"x":-4.9,"y":176},{"x":-4.3,"y":172},{"x":-3.6,"y":176},{"x":-3.0,"y":172},{"x":-5.9,"y":162},{"x":-6.4,"y":165},{"x":-5.2,"y":165},{"x":-4.5,"y":160},{"x":-3.8,"y":164},{"x":-3.2,"y":160},{"x":-7.2,"y":155},{"x":-6.7,"y":155},{"x":-6.3,"y":156},{"x":-5.5,"y":150},{"x":-4.8,"y":150},{"x":-4.0,"y":152},{"x":-3.4,"y":148},{"x":-7.3,"y":142},{"x":-7.2,"y":136},{"x":-6.2,"y":142},{"x":-5.7,"y":138},{"x":-5.0,"y":138},{"x":-4.4,"y":140},{"x":-3.7,"y":136},{"x":-6.6,"y":128},{"x":-5.9,"y":126},{"x":-5.2,"y":125},{"x":-4.6,"y":126},{"x":-4.0,"y":122},{"x":-5.6,"y":115},{"x":-5.0,"y":112},{"x":-4.4,"y":115},{"x":-3.8,"y":110},{"x":-5.6,"y":105},{"x":-5.3,"y":100},{"x":-7.4,"y":100},{"x":-7.7,"y":98},{"x":-4.8,"y":100},{"x":-4.2,"y":98},{"x":-5.6,"y":95},{"x":-5.0,"y":90},{"x":-4.4,"y":92},{"x":-7.0,"y":85},{"x":-6.2,"y":85},{"x":-5.7,"y":80},{"x":-5.1,"y":78},{"x":-4.6,"y":82},{"x":-7.0,"y":75},{"x":-7.3,"y":68},{"x":-6.6,"y":72},{"x":-6.0,"y":68},{"x":-5.4,"y":70},{"x":-4.9,"y":66},{"x":-7.1,"y":62},{"x":-6.5,"y":58},{"x":-6.7,"y":52},{"x":-6.0,"y":52},{"x":-5.5,"y":55},{"x":-7.8,"y":44},{"x":-7.3,"y":44},{"x":-6.6,"y":40},{"x":-6.0,"y":42},{"x":-5.6,"y":38},{"x":-8.4,"y":36},{"x":-7.0,"y":36},{"x":-6.5,"y":30},{"x":-5.9,"y":30},{"x":-9,"y":28},{"x":-7.2,"y":28},{"x":-6.9,"y":24},{"x":-6.3,"y":22},{"x":-10.5,"y":17},{"x":-10.2,"y":16},{"x":-9.6,"y":14},{"x":-8.9,"y":18},{"x":-8.2,"y":18},{"x":-7.5,"y":18},{"x":-8.6,"y":11}],
"eU":[{"x":1.3,"y":292},{"x":1.7,"y":292},{"x":2.1,"y":291},{"x":2.6,"y":292},{"x":3.1,"y":292},{"x":3.6,"y":291},{"x":4.2,"y":294},{"x":5.0,"y":292},{"x":5.0,"y":285},{"x":4.5,"y":284},{"x":1.4,"y":280},{"x":2.4,"y":277},{"x":3.3,"y":280},{"x":4.4,"y":276},{"x":1.1,"y":270},{"x":1.9,"y":272},{"x":2.7,"y":268},{"x":3.7,"y":272},{"x":5.3,"y":270},{"x":6.5,"y":266},{"x":1.5,"y":264},{"x":2.1,"y":262},{"x":2.9,"y":258},{"x":4.0,"y":262},{"x":5.0,"y":258},{"x":5.7,"y":258},{"x":11,"y":261},{"x":1.2,"y":256},{"x":1.8,"y":252},{"x":2.4,"y":250},{"x":3.3,"y":252},{"x":4.4,"y":248},{"x":5.6,"y":250},{"x":8.2,"y":250},{"x":1.5,"y":240},{"x":2.2,"y":238},{"x":3.0,"y":242},{"x":6.8,"y":242},{"x":4.7,"y":244},{"x":1.1,"y":232},{"x":1.8,"y":228},{"x":2.6,"y":232},{"x":6,"y":232},{"x":1.4,"y":222},{"x":2.1,"y":220},{"x":3.8,"y":218},{"x":4.3,"y":220},{"x":1.7,"y":212},{"x":2.3,"y":208},{"x":3.3,"y":212},{"x":4.0,"y":208},{"x":6.8,"y":208},{"x":1.3,"y":202},{"x":2.0,"y":198},{"x":2.8,"y":202},{"x":3.6,"y":198},{"x":5.2,"y":196},{"x":6.0,"y":195},{"x":7.9,"y":202},{"x":1.7,"y":190},{"x":2.5,"y":186},{"x":3.4,"y":188},{"x":4.4,"y":188},{"x":5.4,"y":184},{"x":1.5,"y":178},{"x":2.0,"y":176},{"x":2.9,"y":175},{"x":3.8,"y":178},{"x":4.9,"y":174},{"x":11.6,"y":174},{"x":2.2,"y":166},{"x":3.1,"y":168},{"x":4.0,"y":164},{"x":5.9,"y":160},{"x":6.6,"y":166},{"x":2.3,"y":156},{"x":3.3,"y":152},{"x":4.4,"y":156},{"x":5.5,"y":158},{"x":7.0,"y":150},{"x":2.6,"y":145},{"x":3.5,"y":142},{"x":4.7,"y":144},{"x":5.9,"y":146},{"x":6.4,"y":138},{"x":11.0,"y":147},{"x":10.3,"y":140},{"x":2.4,"y":135},{"x":3.2,"y":132},{"x":4.2,"y":128},{"x":5.0,"y":136},{"x":6.9,"y":132},{"x":2.7,"y":122},{"x":3.8,"y":118},{"x":4.9,"y":122},{"x":5.8,"y":120},{"x":8.5,"y":118},{"x":2.9,"y":110},{"x":3.6,"y":106},{"x":4.5,"y":110},{"x":5.3,"y":108},{"x":6.9,"y":112},{"x":7.0,"y":100},{"x":3.0,"y":96},{"x":4.1,"y":98},{"x":5.1,"y":92},{"x":6.0,"y":96},{"x":8.0,"y":92},{"x":9.2,"y":85},{"x":10.3,"y":87},{"x":3.4,"y":86},{"x":4.3,"y":80},{"x":5.4,"y":84},{"x":6.5,"y":78},{"x":7.2,"y":84},{"x":3.7,"y":72},{"x":5.0,"y":70},{"x":6.1,"y":72},{"x":7.3,"y":68},{"x":13,"y":71},{"x":4.1,"y":60},{"x":5.5,"y":60},{"x":6.5,"y":56},{"x":8.0,"y":58},{"x":11.6,"y":54},{"x":11.4,"y":53},{"x":4.6,"y":50},{"x":5.8,"y":48},{"x":7.0,"y":52},{"x":8.9,"y":50},{"x":9.3,"y":46},{"x":7.5,"y":44},{"x":8.2,"y":42},{"x":11.4,"y":40},{"x":6.0,"y":38},{"x":6.9,"y":34},{"x":8.0,"y":35},{"x":9.4,"y":34},{"x":10.0,"y":33},{"x":6.5,"y":28},{"x":7.4,"y":26},{"x":8.4,"y":28},{"x":9.2,"y":26},{"x":13.5,"y":28},{"x":8.9,"y":22},{"x":10.8,"y":22},{"x":12.0,"y":24},{"x":12.5,"y":25}]
},
"spacing":10,"bounds":"full","resolve":{"scale":{"color":"independent"},"legend":{"color":"independent"}},
"vconcat":[
{"spacing":0,"bounds":"full","resolve":{"scale":{"color":"independent"},"legend":{"color":"independent"}},"hconcat":[
{"width":1,"height":1,"data":{"values":[]},"mark":"rect"},
{"spacing":32,"bounds":"full","resolve":{"scale":{"color":"independent"},"legend":{"color":"independent"}},"hconcat":[
{"spacing":0,"bounds":"flush","resolve":{"scale":{"color":"independent"},"legend":{"color":"independent"}},"vconcat":[
{"width":154,"height":11.5,"title":{"text":"A.","dx":-48.7,"dy":25.3},"data":{"values":[]},"mark":"rect"},
{"width":154,"height":5,"data":{"name":"annot"},"mark":"rect","encoding":{"x":{"field":"s","type":"nominal","sort":null,"axis":null,"scale":{"padding":0}},"y":{"datum":"Group","type":"nominal","scale":{"padding":0},"axis":{"orient":"right","title":null,"domain":false,"ticks":false,"grid":false,"labelFontSize":7,"labelColor":"#555","labelPadding":2}},"color":{"field":"g","type":"nominal","scale":{"domain":["T-W-CK0","T-W-CK75","T-W-AH75"],"range":["#0a8a6c","#d45a06","#7570b3"]},"legend":{"orient":"none","legendX":194,"legendY":6,"title":"Group","titleFontSize":7,"labelFontSize":6.5,"symbolType":"square","symbolSize":85,"symbolOpacity":1,"symbolStrokeWidth":0,"rowPadding":0,"titlePadding":3}}}},
{"width":154,"height":2.5,"data":{"values":[]},"mark":"rect"},
{"width":154,"height":373.7,"data":{"name":"heat"},"mark":"rect","encoding":{"x":{"field":"s","type":"nominal","sort":["CK0-3","CK0-1","CK0-2","AH75-1","AH75-2","AH75-3","CK75-3","CK75-1","CK75-2"],"scale":{"padding":0},"axis":{"title":null,"domain":false,"ticks":false,"grid":false,"labelAngle":45,"labelAlign":"left","labelBaseline":"top","labelFontSize":6.5,"labelColor":"#555","labelPadding":4,"labelExpr":"'T-W-' + datum.label"}},"y":{"field":"r","type":"ordinal","scale":{"padding":0},"axis":null},"color":{"field":"z","type":"quantitative","scale":{"domain":[-4,-2.3,-1.7,-1,-0.5,0,0.5,1,2,2.7,4],"range":["#00441b","#0b6a35","#1e9a4a","#80c35f","#c1e387","#ffffbf","#fee89a","#fdc176","#f4693d","#c1162a","#a30b30"]},"legend":{"orient":"none","legendX":158.5,"legendY":-3,"title":"Z-score","titleFontSize":7,"labelFontSize":6.5,"gradientLength":124,"gradientThickness":10.5,"values":[-4,-2,0,2,4],"titlePadding":3}}}}
]},
{"spacing":0,"bounds":"flush","resolve":{"scale":{"color":"independent"},"legend":{"color":"independent"}},"vconcat":[
{"width":423.2,"height":50.7,"title":{"text":"B.","dx":-59.6,"dy":25.3},"data":{"values":[]},"mark":"rect"},
{"width":423.2,"height":307.6,"view":{"stroke":"#9a9a9a","strokeWidth":1.5},"title":{"text":"2D PCA Plot","anchor":"middle","font":"Liberation Sans","fontWeight":"normal","fontSize":11,"color":"#333","offset":7},
"encoding":{"x":{"field":"x","type":"quantitative","scale":{"domain":[-206.1,156.4],"nice":false,"zero":false},"axis":{"values":[-200,-100,0,100],"title":"PC1 (51.25%)","titlePadding":3,"grid":true}},"y":{"field":"y","type":"quantitative","scale":{"domain":[-160.7,137.6],"nice":false,"zero":false},"axis":{"values":[-150,-100,-50,0,50,100],"title":"PC2 (26.66%)","titlePadding":4,"grid":true}}},
"layer":[
{"data":{"values":[{"v":-150},{"v":-50},{"v":50},{"v":150}]},"mark":{"type":"rule","color":"#f1f1f1"},"encoding":{"x":{"field":"v","type":"quantitative"},"y":null}},
{"data":{"values":[{"v":-125},{"v":-75},{"v":-25},{"v":25},{"v":75},{"v":125}]},"mark":{"type":"rule","color":"#f1f1f1"},"encoding":{"y":{"field":"v","type":"quantitative"},"x":null}},
{"data":{"name":"ell"},"mark":{"type":"area","opacity":0.22},"encoding":{"y2":{"field":"y2"},"color":{"field":"g","type":"nominal"},"detail":{"field":"g"}}},
{"data":{"name":"pts"},"mark":{"type":"circle","size":70,"opacity":0.55},"encoding":{"color":{"field":"g","type":"nominal","scale":{"domain":["T-W-CK0","T-W-CK75","T-W-AH75"],"range":["#1b9e77","#ef7f23","#7570b3"]},"legend":{"orient":"none","legendX":436,"legendY":125,"title":"Group","titleFontSize":8.5,"labelFontSize":7,"symbolSize":70,"symbolType":"circle","symbolOpacity":0.55,"rowPadding":4,"titlePadding":5}}}},
{"data":{"name":"pts"},"mark":{"type":"circle","size":6,"opacity":1},"encoding":{"color":{"field":"g","type":"nominal"}}},
{"data":{"name":"labs"},"mark":{"type":"text","fontSize":6.5,"opacity":0.8},"encoding":{"text":{"field":"t"},"color":{"field":"g","type":"nominal"}}}
]}
]}
]}
]},
{"spacing":0,"bounds":"full","resolve":{"scale":{"color":"independent"},"legend":{"color":"independent"}},"hconcat":[
{"width":1,"height":1,"data":{"values":[]},"mark":"rect"},
{"spacing":-21,"bounds":"full","resolve":{"scale":{"color":"independent"},"legend":{"color":"independent"}},"hconcat":[
{"spacing":0,"bounds":"flush","resolve":{"scale":{"color":"independent"},"legend":{"color":"independent"}},"vconcat":[
{"width":240.4,"height":37.7,"title":{"text":"C.","dx":-63.3,"dy":29.3},"data":{"values":[]},"mark":"rect"},
{"width":240.4,"height":216,"view":{"stroke":"#b5b5b5","strokeWidth":1},
"encoding":{"x":{"field":"x","type":"quantitative","scale":{"domain":[-18.3,18.2],"nice":false,"zero":false},"axis":{"values":[-16,-8,-4,-2,0,2,4,8,16],"title":"Log₂(Fold Change)","titlePadding":1,"grid":true}},"y":{"field":"y","type":"quantitative","scale":{"domain":[-15.5,308],"nice":false,"zero":false},"axis":{"values":[0,100,200,300],"title":"− Log₁₀(FDR)","titlePadding":3,"grid":true}}},
"layer":[
{"data":{"values":[{"v":50},{"v":150},{"v":250}]},"mark":{"type":"rule","color":"#f1f1f1"},"encoding":{"y":{"field":"v","type":"quantitative"},"x":null}},
{"data":{"values":[{"x":-1,"y":0,"y2":110},{"x":-0.75,"y":0,"y2":70},{"x":-0.5,"y":0,"y2":30},{"x":-0.25,"y":0,"y2":8},{"x":0,"y":0,"y2":1},{"x":0.25,"y":0,"y2":8},{"x":0.5,"y":0,"y2":30},{"x":0.75,"y":0,"y2":70},{"x":1,"y":0,"y2":110}]},"mark":{"type":"area","color":"#c4c4c4"},"encoding":{"y2":{"field":"y2"}}},
{"data":{"values":[{"x":-8,"y":8,"y2":20},{"x":-7,"y":4,"y2":45},{"x":-6,"y":2,"y2":85},{"x":-5,"y":1,"y2":140},{"x":-4,"y":0,"y2":200},{"x":-3,"y":0,"y2":260},{"x":-2,"y":0,"y2":290},{"x":-1,"y":0,"y2":293}]},"mark":{"type":"area","color":"#005a00","opacity":0.45},"encoding":{"y2":{"field":"y2"}}},
{"data":{"values":[{"x":1,"y":0,"y2":293},{"x":2,"y":0,"y2":293},{"x":3,"y":0,"y2":270},{"x":4,"y":0,"y2":220},{"x":5,"y":0,"y2":160},{"x":6,"y":0,"y2":110},{"x":7,"y":3,"y2":70},{"x":8,"y":5,"y2":45},{"x":9,"y":9,"y2":30},{"x":10,"y":13,"y2":25}]},"mark":{"type":"area","color":"#c40000","opacity":0.45},"encoding":{"y2":{"field":"y2"}}},
{"data":{"values":[{"x":-10,"y":13,"y2":15},{"x":-9,"y":10,"y2":13},{"x":-8,"y":7,"y2":12},{"x":-7,"y":4,"y2":16},{"x":-6,"y":2,"y2":33},{"x":-5,"y":1,"y2":55},{"x":-4,"y":0,"y2":78},{"x":-3.5,"y":0,"y2":90},{"x":-3,"y":0,"y2":105},{"x":-2.5,"y":0,"y2":125},{"x":-2,"y":0,"y2":150},{"x":-1.5,"y":0,"y2":175},{"x":-1,"y":0,"y2":185}]},"mark":{"type":"area","color":"#005a00"},"encoding":{"y2":{"field":"y2"}}},
{"data":{"values":[{"x":1,"y":0,"y2":180},{"x":1.5,"y":0,"y2":140},{"x":2,"y":0,"y2":100},{"x":2.5,"y":0,"y2":80},{"x":3,"y":0,"y2":65},{"x":4,"y":0,"y2":45},{"x":5,"y":0,"y2":30},{"x":6,"y":1,"y2":22},{"x":6.5,"y":3,"y2":18},{"x":7,"y":4,"y2":11},{"x":8,"y":6,"y2":13},{"x":10,"y":13,"y2":20},{"x":12,"y":20,"y2":26},{"x":14.5,"y":31,"y2":33}]},"mark":{"type":"area","color":"#c40000"},"encoding":{"y2":{"field":"y2"}}},
{"data":{"values":[{"x":-8.3,"x2":-1,"y":307},{"x":-4.3,"x2":-1,"y":293}]},"mark":{"type":"rule","color":"#005a00","strokeWidth":2.5},"encoding":{"x2":{"field":"x2"}}},
{"data":{"values":[{"x":1,"x2":10.5,"y":307},{"x":11,"x2":12.5,"y":307}]},"mark":{"type":"rule","color":"#c40000","strokeWidth":2},"encoding":{"x2":{"field":"x2"}}},
{"data":{"name":"cN"},"mark":{"type":"circle","size":5,"opacity":1},"encoding":{"color":{"datum":"Insignificant: 8087","scale":{"domain":["Up: 4733","Down: 4948","Insignificant: 8087"],"range":["#c40000","#005a00","#c4c4c4"]}}}},
{"data":{"name":"cD"},"mark":{"type":"circle","size":7,"opacity":1},"encoding":{"color":{"datum":"Down: 4948","scale":{"domain":["Up: 4733","Down: 4948","Insignificant: 8087"],"range":["#c40000","#005a00","#c4c4c4"]},"legend":{"orient":"none","legendX":250,"legendY":86,"title":"Statistics","titleFontSize":9,"labelFontSize":9,"symbolSize":6,"rowPadding":2,"titlePadding":4,"symbolType":"circle"}}}},
{"data":{"name":"cU"},"mark":{"type":"circle","size":7,"opacity":1},"encoding":{"color":{"datum":"Up: 4733","scale":{"domain":["Up: 4733","Down: 4948","Insignificant: 8087"],"range":["#c40000","#005a00","#c4c4c4"]}}}},
{"data":{"values":[{"v":1.3}]},"mark":{"type":"rule","color":"#666","strokeDash":[4,3],"strokeWidth":1},"encoding":{"y":{"field":"v","type":"quantitative"},"x":null}},
{"data":{"values":[{"v":-1},{"v":1}]},"mark":{"type":"rule","color":"#666","strokeDash":[4,3],"strokeWidth":1},"encoding":{"x":{"field":"v","type":"quantitative"},"y":null}}
]}
]},
{"spacing":0,"bounds":"flush","resolve":{"scale":{"color":"independent"},"legend":{"color":"independent"}},"vconcat":[
{"width":233,"height":36,"title":{"text":"D.","dx":-100,"dy":30.3},"data":{"values":[]},"mark":"rect"},
{"width":233,"height":213.3,"view":{"stroke":"#b5b5b5","strokeWidth":1},
"encoding":{"x":{"field":"x","type":"quantitative","scale":{"domain":[-9.9,9.86],"nice":false,"zero":false},"axis":{"values":[-8,-4,-2,0,2,4,8],"title":"Log₂(Fold Change)","titlePadding":1,"grid":true}},"y":{"field":"y","type":"quantitative","scale":{"domain":[-14.7,309],"nice":false,"zero":false},"axis":{"values":[0,100,200,300],"title":"− Log₁₀(FDR)","titlePadding":3,"grid":true}}},
"layer":[
{"data":{"values":[{"v":50},{"v":150},{"v":250}]},"mark":{"type":"rule","color":"#f1f1f1"},"encoding":{"y":{"field":"v","type":"quantitative"},"x":null}},
{"data":{"values":[{"x":-1,"y":0,"y2":85},{"x":-0.75,"y":0,"y2":45},{"x":-0.5,"y":0,"y2":18},{"x":-0.25,"y":0,"y2":4},{"x":0,"y":0,"y2":0.5},{"x":0.25,"y":0,"y2":4},{"x":0.5,"y":0,"y2":18},{"x":0.75,"y":0,"y2":45},{"x":1,"y":0,"y2":85}]},"mark":{"type":"area","color":"#c4c4c4"},"encoding":{"y2":{"field":"y2"}}},
{"data":{"values":[{"x":-6,"y":2,"y2":15},{"x":-5,"y":1,"y2":30},{"x":-4,"y":0,"y2":70},{"x":-3,"y":0,"y2":150},{"x":-2,"y":0,"y2":290},{"x":-1,"y":0,"y2":293}]},"mark":{"type":"area","color":"#005a00","opacity":0.28},"encoding":{"y2":{"field":"y2"}}},
{"data":{"values":[{"x":1,"y":0,"y2":260},{"x":2,"y":0,"y2":270},{"x":3,"y":0,"y2":140},{"x":4,"y":1,"y2":50},{"x":5,"y":3,"y2":8}]},"mark":{"type":"area","color":"#c40000","opacity":0.22},"encoding":{"y2":{"field":"y2"}}},
{"data":{"values":[{"x":-6,"y":2,"y2":4},{"x":-5,"y":1,"y2":9},{"x":-4,"y":0,"y2":15},{"x":-3,"y":0,"y2":30},{"x":-2.5,"y":0,"y2":50},{"x":-2,"y":0,"y2":75},{"x":-1.5,"y":0,"y2":100},{"x":-1,"y":0,"y2":165}]},"mark":{"type":"area","color":"#005a00"},"encoding":{"y2":{"field":"y2"}}},
{"data":{"values":[{"x":1,"y":0,"y2":95},{"x":1.5,"y":0,"y2":55},{"x":2,"y":0,"y2":40},{"x":2.5,"y":0,"y2":25},{"x":3,"y":0,"y2":15},{"x":4,"y":1,"y2":6},{"x":4.5,"y":2,"y2":4}]},"mark":{"type":"area","color":"#c40000"},"encoding":{"y2":{"field":"y2"}}},
{"data":{"values":[{"x":-4.3,"x2":-1.2,"y":308},{"x":-5.4,"x2":-5.2,"y":308},{"x":-4.8,"x2":-4.5,"y":308}]},"mark":{"type":"rule","color":"#2e7d2e","strokeWidth":2},"encoding":{"x2":{"field":"x2"}}},
{"data":{"values":[{"x":1.9,"x2":3.2,"y":308},{"x":3.6,"x2":4.0,"y":308},{"x":4.8,"x2":4.9,"y":308},{"x":1.5,"x2":1.6,"y":308}]},"mark":{"type":"rule","color":"#d43c3c","strokeWidth":2},"encoding":{"x2":{"field":"x2"}}},
{"data":{"name":"dN"},"mark":{"type":"circle","size":5,"opacity":1},"encoding":{"color":{"datum":"Insignificant: 12105","scale":{"domain":["Up: 2143","Down: 2696","Insignificant: 12105"],"range":["#c40000","#005a00","#c4c4c4"]}}}},
{"data":{"name":"dD"},"mark":{"type":"circle","size":7,"opacity":1},"encoding":{"color":{"datum":"Down: 2696","scale":{"domain":["Up: 2143","Down: 2696","Insignificant: 12105"],"range":["#c40000","#005a00","#c4c4c4"]},"legend":{"orient":"none","legendX":243,"legendY":87,"title":"Statistics","titleFontSize":9,"labelFontSize":9,"symbolSize":6,"rowPadding":1.5,"titlePadding":4,"symbolType":"circle"}}}},
{"data":{"name":"dU"},"mark":{"type":"circle","size":7,"opacity":1},"encoding":{"color":{"datum":"Up: 2143","scale":{"domain":["Up: 2143","Down: 2696","Insignificant: 12105"],"range":["#c40000","#005a00","#c4c4c4"]}}}},
{"data":{"values":[{"v":1.3}]},"mark":{"type":"rule","color":"#666","strokeDash":[4,3],"strokeWidth":1},"encoding":{"y":{"field":"v","type":"quantitative"},"x":null}},
{"data":{"values":[{"v":-1},{"v":1}]},"mark":{"type":"rule","color":"#666","strokeDash":[4,3],"strokeWidth":1},"encoding":{"x":{"field":"v","type":"quantitative"},"y":null}}
]}
]}
]}
]},
{"spacing":0,"bounds":"full","resolve":{"scale":{"color":"independent"},"legend":{"color":"independent"}},"hconcat":[
{"width":4,"height":1,"data":{"values":[]},"mark":"rect"},
{"spacing":19,"bounds":"full","resolve":{"scale":{"color":"independent"},"legend":{"color":"independent"}},"hconcat":[
{"spacing":0,"bounds":"flush","resolve":{"scale":{"color":"independent"},"legend":{"color":"independent"}},"vconcat":[
{"width":218,"height":54.3,"title":{"text":"E.","dx":-60.3,"dy":46.3},"data":{"values":[]},"mark":"rect"},
{"width":218,"height":195,"view":{"stroke":"#b5b5b5","strokeWidth":1},
"encoding":{"x":{"field":"x","type":"quantitative","scale":{"domain":[-14.87,14.78],"nice":false,"zero":false},"axis":{"values":[-8,-4,-2,0,2,4,8],"title":"Log₂(Fold Change)","titlePadding":1,"grid":true}},"y":{"field":"y","type":"quantitative","scale":{"domain":[-15,309.4],"nice":false,"zero":false},"axis":{"values":[0,100,200,300],"title":"− Log₁₀(FDR)","titlePadding":3,"grid":true}}},
"layer":[
{"data":{"values":[{"v":50},{"v":150},{"v":250}]},"mark":{"type":"rule","color":"#f1f1f1"},"encoding":{"y":{"field":"v","type":"quantitative"},"x":null}},
{"data":{"values":[{"x":-1,"y":0,"y2":130},{"x":-0.75,"y":0,"y2":60},{"x":-0.5,"y":0,"y2":25},{"x":-0.25,"y":0,"y2":5},{"x":0,"y":0,"y2":0.5},{"x":0.25,"y":0,"y2":5},{"x":0.5,"y":0,"y2":25},{"x":0.75,"y":0,"y2":60},{"x":1,"y":0,"y2":130}]},"mark":{"type":"area","color":"#c4c4c4"},"encoding":{"y2":{"field":"y2"}}},
{"data":{"values":[{"x":-8,"y":7,"y2":15},{"x":-7,"y":3,"y2":60},{"x":-6,"y":1,"y2":130},{"x":-5,"y":0,"y2":180},{"x":-4,"y":0,"y2":230},{"x":-3,"y":0,"y2":280},{"x":-2,"y":0,"y2":293},{"x":-1,"y":0,"y2":293}]},"mark":{"type":"area","color":"#005a00","opacity":0.4},"encoding":{"y2":{"field":"y2"}}},
{"data":{"values":[{"x":1,"y":0,"y2":293},{"x":2,"y":0,"y2":293},{"x":3,"y":0,"y2":220},{"x":4,"y":0,"y2":150},{"x":5,"y":0,"y2":100},{"x":6,"y":0,"y2":70},{"x":7,"y":2,"y2":40},{"x":8,"y":3,"y2":25},{"x":10,"y":11,"y2":20}]},"mark":{"type":"area","color":"#c40000","opacity":0.4},"encoding":{"y2":{"field":"y2"}}},
{"data":{"values":[{"x":-8.4,"y":9,"y2":14},{"x":-8,"y":7,"y2":14},{"x":-7,"y":3,"y2":12},{"x":-6,"y":1,"y2":15},{"x":-5,"y":0,"y2":28},{"x":-4,"y":0,"y2":50},{"x":-3,"y":0,"y2":75},{"x":-2.5,"y":0,"y2":100},{"x":-2,"y":0,"y2":130},{"x":-1.5,"y":0,"y2":170},{"x":-1,"y":0,"y2":200}]},"mark":{"type":"area","color":"#005a00"},"encoding":{"y2":{"field":"y2"}}},
{"data":{"values":[{"x":1,"y":0,"y2":160},{"x":1.5,"y":0,"y2":100},{"x":2,"y":0,"y2":70},{"x":3,"y":0,"y2":45},{"x":4,"y":0,"y2":30},{"x":5,"y":0,"y2":20},{"x":6,"y":1,"y2":16},{"x":7,"y":2,"y2":12},{"x":8,"y":3,"y2":13},{"x":9,"y":6,"y2":16},{"x":10,"y":11,"y2":20}]},"mark":{"type":"area","color":"#c40000"},"encoding":{"y2":{"field":"y2"}}},
{"data":{"values":[{"x":-8.4,"x2":-1,"y":308},{"x":-4.3,"x2":-1,"y":293}]},"mark":{"type":"rule","color":"#005a00","strokeWidth":2},"encoding":{"x2":{"field":"x2"}}},
{"data":{"values":[{"x":1.2,"x2":8,"y":308},{"x":8.2,"x2":9.5,"y":308},{"x":1.2,"x2":3.4,"y":292}]},"mark":{"type":"rule","color":"#c40000","strokeWidth":2},"encoding":{"x2":{"field":"x2"}}},
{"data":{"name":"eN"},"mark":{"type":"circle","size":5,"opacity":1},"encoding":{"color":{"datum":"Insignificant: 9273","scale":{"domain":["Up: 3864","Down: 4347","Insignificant: 9273"],"range":["#c40000","#005a00","#c4c4c4"]}}}},
{"data":{"name":"eD"},"mark":{"type":"circle","size":7,"opacity":1},"encoding":{"color":{"datum":"Down: 4347","scale":{"domain":["Up: 3864","Down: 4347","Insignificant: 9273"],"range":["#c40000","#005a00","#c4c4c4"]},"legend":{"orient":"none","legendX":227,"legendY":80,"title":"Statistics","titleFontSize":8,"labelFontSize":8,"symbolSize":6,"rowPadding":1.5,"titlePadding":3,"symbolType":"circle"}}}},
{"data":{"name":"eU"},"mark":{"type":"circle","size":7,"opacity":1},"encoding":{"color":{"datum":"Up: 3864","scale":{"domain":["Up: 3864","Down: 4347","Insignificant: 9273"],"range":["#c40000","#005a00","#c4c4c4"]}}}},
{"data":{"values":[{"v":1.3}]},"mark":{"type":"rule","color":"#666","strokeDash":[4,3],"strokeWidth":1},"encoding":{"y":{"field":"v","type":"quantitative"},"x":null}},
{"data":{"values":[{"v":-1},{"v":1}]},"mark":{"type":"rule","color":"#666","strokeDash":[4,3],"strokeWidth":1},"encoding":{"x":{"field":"v","type":"quantitative"},"y":null}}
]}
]},
{"spacing":0,"bounds":"flush","vconcat":[
{"width":308,"height":44,"title":{"text":"F.","dx":-58.7,"dy":46.3},"data":{"values":[]},"mark":"rect"},
{"width":308,"height":226.3,
"encoding":{"x":{"field":"x","type":"quantitative","scale":{"domain":[0,308],"nice":false,"zero":false},"axis":null},"y":{"field":"y","type":"quantitative","scale":{"domain":[0,226.3],"nice":false,"zero":false},"axis":null}},
"layer":[
{"data":{"values":[{"x":102.5,"y":103,"set":"T-W-CK0 vsT-W-CK75"}]},"mark":{"type":"point","filled":true,"size":42271,"fill":"#ff0000","fillOpacity":0.5,"strokeWidth":0}},
{"data":{"values":[{"x":205.5,"y":103,"set":"T-W-CK75 vsT-W-AH75"}]},"mark":{"type":"point","filled":true,"size":42271,"fill":"#0000e6","fillOpacity":0.53,"strokeWidth":0}},
{"data":{"values":[{"x":102.5,"y":103,"set":"T-W-CK0 vsT-W-CK75"},{"x":205.5,"y":103,"set":"T-W-CK75 vsT-W-AH75"}]},"mark":{"type":"point","filled":false,"size":42271,"stroke":"#222","strokeWidth":0.9,"opacity":0.9}},
{"data":{"values":[{"x":51.3,"y":102,"t":"6091"},{"x":154,"y":102,"t":"3590"},{"x":256.6,"y":102,"t":"1249"}]},"mark":{"type":"text","font":"Liberation Serif","fontSize":5.5,"color":"#222"},"encoding":{"text":{"field":"t"}}},
{"data":{"values":[{"x":115.3,"y":219.8,"t":"T-W-CK0 vsT-W-CK75"}]},"mark":{"type":"text","font":"Liberation Serif","fontWeight":"bold","fontSize":8,"color":"#ff2020"},"encoding":{"text":{"field":"t"}}},
{"data":{"values":[{"x":218,"y":219.8,"t":"T-W-CK75 vsT-W-AH75"}]},"mark":{"type":"text","font":"Liberation Serif","fontWeight":"bold","fontSize":8,"color":"#2020e0"},"encoding":{"text":{"field":"t"}}}
]}
]}
]}
]}
]}
